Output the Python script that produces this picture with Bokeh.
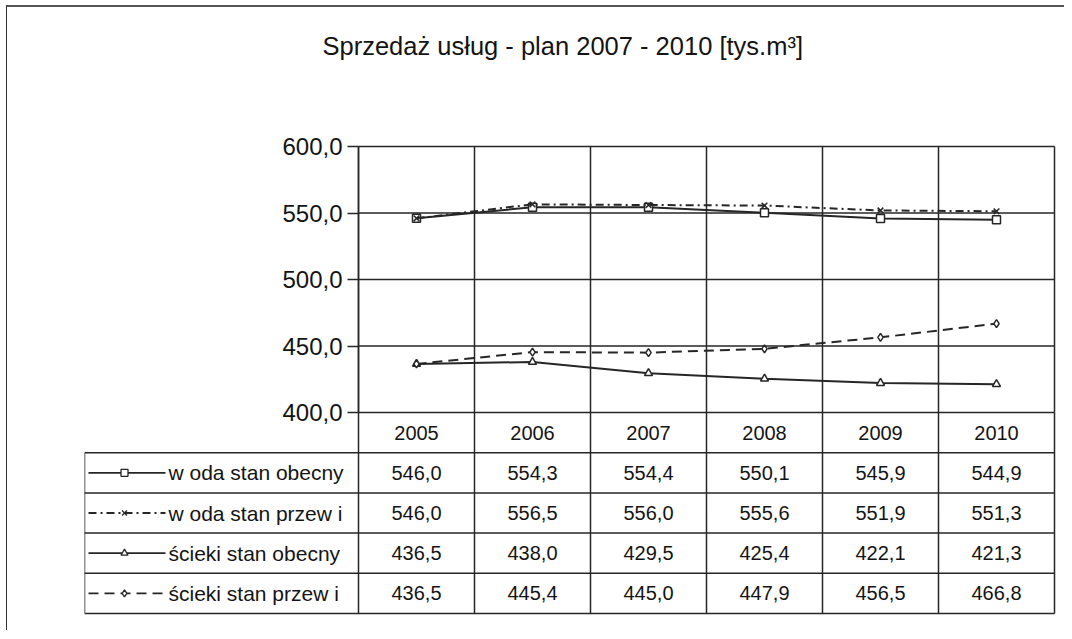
from bokeh.plotting import figure
from bokeh.layouts import column
from bokeh.models import Range1d, FixedTicker, Title, LinearAxis
from bokeh.core.properties import value
from bokeh.embed import file_html
from bokeh.resources import INLINE

# ---------------- data ----------------
years = ["2005", "2006", "2007", "2008", "2009", "2010"]
woda_obecny = [546.0, 554.3, 554.4, 550.1, 545.9, 544.9]
woda_przewi = [546.0, 556.5, 556.0, 555.6, 551.9, 551.3]
scieki_obecny = [436.5, 438.0, 429.5, 425.4, 422.1, 421.3]
scieki_przewi = [436.5, 445.4, 445.0, 447.9, 456.5, 466.8]
series_names = ["w oda stan obecny", "w oda stan przew i",
                "ścieki stan obecny", "ścieki stan przew i"]
y_ticks = [400, 450, 500, 550, 600]
y_tick_labels = ["400,0", "450,0", "500,0", "550,0", "600,0"]
title_text = "Sprzedaż usług - plan 2007 - 2010 [tys.m³]"

series = [woda_obecny, woda_przewi, scieki_obecny, scieki_przewi]
styles = [("solid", "square"), ("8 4 2 4", "x"), ("solid", "triangle"), ("10 6", "diamond")]

# ---------------- layout constants (page pixels) ----------------
FONT = "Liberation Sans"
INK = "#141414"
LINE = "#262626"
N = len(years)
FIG_X0, FIG_Y0 = 7, 7
PLOT_L, PLOT_R, PLOT_T, PLOT_B = 358, 1054, 146, 412
TABLE_B, LABEL_L = 613, 84
FIG_R, FIG_B = 1064, 630
TITLE_L, TITLE_BOTTOM, TITLE_STANDOFF = 322, 59, 4

COLW = (PLOT_R - PLOT_L) / N
VPX = (PLOT_B - PLOT_T) / (y_ticks[-1] - y_ticks[0])
NROWS = len(series) + 1
ROWPX = (TABLE_B - PLOT_B) / NROWS
L = (PLOT_L - LABEL_L) / COLW

frame_l = LABEL_L
frame_r = PLOT_R + 3
frame_t = TITLE_BOTTOM + TITLE_STANDOFF // 2
frame_b = TABLE_B + 3

x_range = Range1d(-(PLOT_L - frame_l) / COLW, N + (frame_r - PLOT_R) / COLW)
y_range = Range1d(y_ticks[0] - (frame_b - PLOT_B) / VPX, y_ticks[-1] + (PLOT_T - frame_t) / VPX)

p = figure(width=FIG_R - FIG_X0, height=FIG_B - FIG_Y0, x_range=x_range, y_range=y_range,
           output_backend="svg", toolbar_location=None,
           x_axis_location=None, y_axis_location=None,
           min_border_left=frame_l - FIG_X0, min_border_right=FIG_R - frame_r,
           min_border_top=frame_t - FIG_Y0, min_border_bottom=FIG_B - frame_b)
p.extra_y_ranges = {"table": Range1d(NROWS + (frame_b - TABLE_B) / ROWPX,
                                     -(PLOT_B - frame_t) / ROWPX)}
p.background_fill_color = "white"
p.border_fill_color = "white"
p.outline_line_color = None
p.grid.visible = False

# chart gridlines (vertical column boundaries and horizontal value lines)
vx = list(range(0, N + 1))
p.segment(x0=vx, y0=[y_ticks[0]] * len(vx), x1=vx, y1=[y_ticks[-1]] * len(vx),
          line_color=LINE, line_width=1.5)
p.segment(x0=[0] * len(y_ticks), y0=y_ticks, x1=[N] * len(y_ticks), y1=y_ticks,
          line_color=LINE, line_width=1.5)

# y axis drawn at the chart's left edge
ax = LinearAxis(fixed_location=0, bounds=(y_ticks[0], y_ticks[-1]),
                ticker=FixedTicker(ticks=y_ticks))
ax.major_label_overrides = {t: l for t, l in zip(y_ticks, y_tick_labels)}
ax.axis_line_color = LINE
ax.axis_line_width = 1.5
ax.major_tick_line_color = LINE
ax.major_tick_line_width = 1.5
ax.major_tick_out = 11
ax.major_tick_in = 0
ax.minor_tick_line_color = None
ax.major_label_text_font = FONT
ax.major_label_text_font_size = "24px"
ax.major_label_text_color = INK
ax.major_label_standoff = 5
p.add_layout(ax, "left")

p.add_layout(Title(text=title_text, align="left", offset=TITLE_L - frame_l, text_font=FONT,
                   text_font_size="25.5px", text_font_style="normal", text_color=INK,
                   standoff=TITLE_STANDOFF), "above")

xs = [i + 0.5 for i in range(N)]
for vals, (dash, marker) in zip(series, styles):
    p.line(xs, vals, line_color=LINE, line_width=2, line_dash=dash)
    p.scatter(xs, vals, marker=marker, size=8, fill_color="white",
              line_color=LINE, line_width=1.5)

# ---------------- data table ----------------
def fmt(v):
    return f"{v:.1f}".replace(".", ",")


p.segment(x0=vx, y0=[0] * len(vx), x1=vx, y1=[NROWS] * len(vx), line_color=LINE,
          line_width=1.5, y_range_name="table")
hy = list(range(1, NROWS + 1))
p.segment(x0=[-L] * len(hy), y0=hy, x1=[N] * len(hy), y1=hy, line_color=LINE,
          line_width=1.5, y_range_name="table")
p.segment(x0=[-L], y0=[1], x1=[-L], y1=[NROWS], line_color=LINE, line_width=1.5,
          y_range_name="table")

p.text(x=xs, y=[0.5] * N, text=years, text_align="center", text_baseline="middle",
       text_font=value(FONT), text_font_size="20px", text_color=INK, y_range_name="table")

key_x0 = -L + 4 / COLW
key_x1 = -L + 81 / COLW
key_xm = -L + 40 / COLW
lab_x = -L + 84 / COLW
for r, (vals, name, (dash, marker)) in enumerate(zip(series, series_names, styles)):
    yc = r + 1.5
    p.text(x=xs, y=[yc] * N, text=[fmt(v) for v in vals], text_align="center",
           text_baseline="middle", text_font=value(FONT), text_font_size="20px",
           text_color=INK, y_range_name="table")
    p.segment(x0=[key_x0], y0=[yc], x1=[key_x1], y1=[yc], line_color=LINE, line_width=1.8,
              line_dash=dash, y_range_name="table")
    p.scatter(x=[key_xm], y=[yc], marker=marker, size=7, fill_color="white",
              line_color=LINE, line_width=1.3, y_range_name="table")
    p.text(x=[lab_x], y=[yc], text=[name], text_align="left", text_baseline="middle",
           text_font=value(FONT), text_font_size="21px", text_color=INK, y_range_name="table")

layout = column(p, styles={"margin": "5px 0 0 6px", "border-left": "1px solid #333333",
                           "border-top": "2px solid #555555", "background-color": "white"})

open("out.html", "w").write(file_html(layout, INLINE))
